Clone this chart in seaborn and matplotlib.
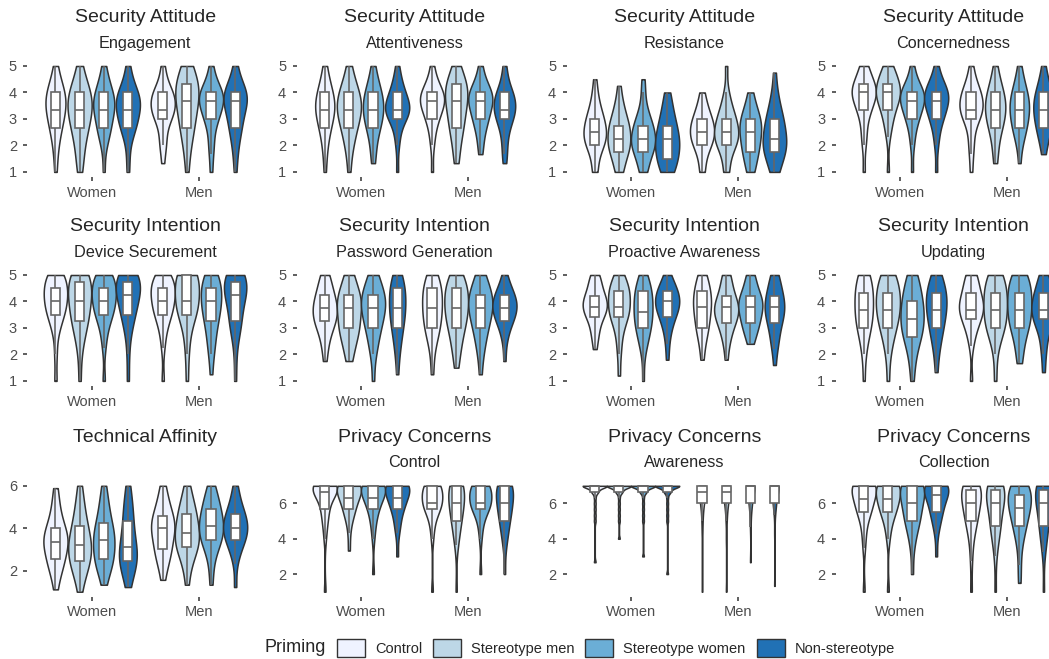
import matplotlib
matplotlib.use("Agg")
import matplotlib.pyplot as plt
from matplotlib.patches import Patch
import numpy as np
import pandas as pd
import seaborn as sns

GENDERS = ["Women", "Men"]
PRIMING = ["Control", "Stereotype men", "Stereotype women", "Non-stereotype"]
COLORS = ["#EFF3FF", "#BDD7E7", "#6BAED6", "#2171B5"]
# row order of every count table: Women x 4 primings, then Men x 4 primings
GROUPS = [(g, p) for g in GENDERS for p in PRIMING]

# answer levels of the scales (mean of 3, 4 or 5 items)
L5_3 = [1, 1.33, 1.67, 2, 2.33, 2.67, 3, 3.33, 3.67, 4, 4.33, 4.67, 5]
L5_4 = [1, 1.25, 1.5, 1.75, 2, 2.25, 2.5, 2.75, 3, 3.25, 3.5, 3.75, 4, 4.25, 4.5, 4.75, 5]
L5_5 = [1, 1.2, 1.4, 1.6, 1.8, 2, 2.2, 2.4, 2.6, 2.8, 3, 3.2, 3.4, 3.6, 3.8, 4, 4.2, 4.4, 4.6, 4.8, 5]
L7_3 = [1, 1.33, 1.67, 2, 2.33, 2.67, 3, 3.33, 3.67, 4, 4.33, 4.67, 5, 5.33, 5.67, 6, 6.33, 6.67, 7]
L7_4 = [1, 1.25, 1.5, 1.75, 2, 2.25, 2.5, 2.75, 3, 3.25, 3.5, 3.75, 4, 4.25, 4.5, 4.75,
        5, 5.25, 5.5, 5.75, 6, 6.25, 6.5, 6.75, 7]

# number of participants per answer level
engagement = [
    [1, 0, 1, 1, 1, 3, 2, 4, 4, 4, 2, 1, 1],
    [1, 1, 1, 1, 2, 2, 3, 3, 4, 3, 2, 1, 1],
    [1, 0, 0, 1, 2, 3, 2, 4, 5, 3, 2, 1, 1],
    [1, 0, 1, 0, 1, 4, 2, 4, 5, 4, 1, 1, 1],
    [0, 1, 0, 2, 1, 1, 3, 5, 4, 5, 1, 1, 1],
    [1, 0, 1, 1, 1, 3, 1, 3, 3, 3, 4, 2, 2],
    [1, 0, 1, 1, 1, 1, 3, 3, 5, 5, 2, 1, 1],
    [1, 0, 1, 1, 1, 3, 2, 2, 5, 6, 1, 1, 1],
]
attentiveness = [
    [1, 0, 1, 1, 1, 3, 2, 5, 4, 3, 2, 1, 1],
    [1, 0, 1, 1, 2, 2, 3, 4, 4, 3, 2, 1, 1],
    [0, 1, 1, 1, 1, 3, 3, 4, 4, 3, 2, 1, 1],
    [1, 0, 0, 1, 1, 1, 3, 7, 4, 3, 2, 1, 1],
    [1, 0, 0, 1, 1, 1, 3, 3, 6, 5, 2, 1, 1],
    [0, 1, 1, 1, 1, 3, 2, 2, 4, 3, 4, 2, 1],
    [0, 0, 1, 1, 1, 2, 3, 3, 5, 5, 2, 1, 1],
    [0, 1, 1, 1, 1, 2, 3, 5, 4, 4, 1, 1, 1],
]
resistance = [
    [2, 0, 1, 1, 3, 3, 4, 2, 3, 2, 1, 1, 1, 0, 1, 0, 0],
    [2, 1, 1, 3, 3, 3, 2, 4, 1, 2, 1, 1, 0, 1, 0, 0, 0],
    [2, 1, 1, 3, 3, 4, 2, 3, 2, 1, 1, 0, 1, 0, 1, 0, 0],
    [3, 1, 3, 2, 3, 3, 2, 2, 2, 1, 1, 1, 1, 0, 0, 0, 0],
    [2, 0, 1, 1, 3, 3, 4, 3, 3, 2, 1, 1, 1, 0, 0, 0, 0],
    [2, 0, 1, 1, 3, 3, 4, 2, 3, 2, 1, 1, 1, 0, 0, 0, 1],
    [2, 1, 1, 3, 2, 2, 3, 3, 3, 2, 1, 1, 1, 0, 0, 0, 0],
    [2, 1, 1, 3, 4, 2, 2, 2, 3, 1, 1, 1, 1, 0, 0, 1, 0],
]
concernedness = [
    [1, 0, 0, 1, 1, 1, 1, 3, 3, 6, 4, 2, 2],
    [1, 0, 0, 0, 1, 1, 2, 2, 4, 5, 4, 3, 2],
    [1, 0, 0, 1, 1, 1, 3, 3, 5, 6, 2, 1, 1],
    [1, 0, 0, 1, 1, 1, 3, 3, 5, 5, 3, 1, 1],
    [1, 0, 1, 1, 1, 1, 3, 5, 4, 4, 2, 1, 1],
    [0, 1, 1, 1, 1, 3, 3, 4, 4, 3, 2, 1, 1],
    [0, 1, 0, 1, 2, 3, 3, 4, 4, 3, 2, 1, 1],
    [0, 0, 1, 1, 2, 3, 3, 4, 4, 3, 2, 1, 1],
]
device_securement = [
    [1, 0, 0, 0, 1, 0, 0, 1, 1, 1, 3, 2, 3, 3, 3, 2, 4],
    [1, 0, 0, 0, 1, 0, 1, 1, 1, 3, 1, 2, 3, 2, 2, 3, 4],
    [1, 0, 0, 0, 0, 1, 0, 1, 1, 1, 3, 2, 3, 3, 3, 2, 4],
    [1, 0, 0, 0, 1, 0, 0, 1, 1, 1, 2, 2, 2, 3, 3, 3, 5],
    [1, 0, 0, 0, 0, 1, 0, 1, 1, 1, 3, 2, 3, 3, 3, 3, 3],
    [1, 0, 0, 0, 1, 0, 1, 0, 1, 1, 2, 3, 3, 2, 2, 1, 7],
    [0, 1, 0, 0, 1, 1, 1, 1, 1, 2, 2, 2, 3, 2, 3, 2, 3],
    [1, 0, 0, 0, 1, 0, 0, 1, 2, 2, 1, 1, 2, 3, 3, 3, 5],
]
password_generation = [
    [0, 0, 0, 1, 0, 1, 1, 1, 2, 3, 3, 3, 3, 2, 2, 1, 2],
    [0, 0, 0, 1, 1, 1, 1, 2, 3, 2, 1, 3, 3, 3, 1, 1, 2],
    [1, 0, 0, 0, 1, 1, 1, 1, 2, 2, 2, 3, 3, 3, 2, 1, 2],
    [0, 1, 0, 0, 1, 1, 1, 1, 2, 2, 2, 3, 2, 2, 3, 2, 2],
    [0, 1, 0, 0, 1, 0, 1, 2, 2, 2, 2, 3, 2, 2, 3, 2, 2],
    [0, 0, 1, 0, 1, 1, 1, 1, 2, 2, 2, 3, 2, 2, 3, 2, 2],
    [0, 1, 0, 0, 1, 1, 1, 1, 2, 2, 2, 3, 3, 3, 2, 1, 2],
    [0, 0, 0, 1, 0, 0, 1, 1, 1, 3, 3, 4, 4, 3, 2, 1, 1],
]
proactive_awareness = [
    [0, 0, 0, 0, 0, 0, 1, 0, 1, 1, 1, 1, 2, 3, 3, 3, 3, 1, 2, 1, 2],
    [0, 1, 0, 0, 0, 1, 0, 1, 0, 1, 1, 1, 2, 3, 2, 2, 2, 3, 2, 1, 2],
    [1, 0, 0, 0, 0, 0, 1, 1, 1, 1, 2, 2, 2, 2, 2, 2, 1, 3, 2, 1, 1],
    [0, 0, 0, 0, 1, 0, 0, 1, 0, 1, 1, 1, 2, 2, 3, 4, 2, 3, 2, 1, 1],
    [0, 0, 0, 0, 1, 0, 1, 0, 1, 1, 3, 1, 1, 2, 3, 2, 2, 2, 2, 1, 2],
    [0, 0, 0, 0, 1, 0, 0, 1, 1, 1, 1, 2, 3, 2, 4, 2, 2, 1, 1, 1, 2],
    [0, 0, 0, 0, 0, 0, 0, 1, 1, 1, 2, 2, 2, 2, 3, 3, 3, 1, 1, 1, 2],
    [0, 0, 0, 1, 0, 0, 1, 1, 1, 1, 1, 2, 2, 2, 3, 2, 2, 2, 1, 1, 2],
]
updating = [
    [1, 0, 0, 1, 1, 1, 3, 3, 3, 3, 3, 3, 3],
    [1, 0, 0, 1, 1, 1, 3, 2, 4, 3, 3, 3, 3],
    [1, 0, 1, 1, 1, 3, 3, 3, 3, 3, 2, 2, 2],
    [0, 1, 0, 1, 1, 2, 2, 3, 3, 4, 3, 3, 2],
    [1, 0, 0, 0, 1, 1, 2, 3, 5, 4, 3, 2, 3],
    [1, 0, 0, 1, 0, 2, 3, 3, 3, 3, 3, 3, 3],
    [0, 0, 1, 1, 1, 1, 3, 3, 3, 3, 3, 3, 3],
    [0, 1, 0, 1, 1, 1, 2, 4, 4, 4, 3, 2, 2],
]
# technical affinity: single scores (mean of 9 items, 1-6)
technical_affinity = [
    [1.11, 1.67, 2.0, 2.22, 2.33, 2.44, 2.56, 2.78, 3.0, 3.11, 3.22, 3.33, 3.33,
     3.44, 3.56, 3.67, 3.78, 3.89, 4.0, 4.22, 4.44, 4.67, 5.0, 5.44, 5.89],
    [1.0, 1.56, 1.89, 2.11, 2.22, 2.33, 2.44, 2.67, 2.78, 2.89, 3.0, 3.11, 3.22,
     3.33, 3.44, 3.56, 3.78, 3.89, 4.11, 4.33, 4.56, 4.78, 5.11, 5.56, 6.0],
    [1.33, 1.89, 2.11, 2.22, 2.33, 2.44, 2.56, 2.78, 2.89, 3.0, 3.22, 3.33, 3.44,
     3.56, 3.67, 3.78, 3.89, 4.0, 4.22, 4.44, 4.67, 4.89, 5.22, 5.56, 6.0],
    [1.22, 1.67, 1.89, 2.11, 2.22, 2.33, 2.44, 2.56, 2.67, 2.78, 2.89, 3.0, 3.11,
     3.22, 3.44, 3.67, 3.89, 4.11, 4.33, 4.56, 4.78, 5.0, 5.33, 5.67, 6.0],
    [1.56, 2.11, 2.44, 2.67, 2.78, 2.89, 3.0, 3.22, 3.44, 3.56, 3.78, 3.89, 4.0,
     4.0, 4.11, 4.22, 4.33, 4.44, 4.56, 4.67, 4.89, 5.11, 5.33, 5.67, 6.0],
    [1.33, 2.0, 2.44, 2.67, 2.89, 3.0, 3.11, 3.22, 3.33, 3.44, 3.56, 3.67, 3.78,
     3.89, 4.0, 4.22, 4.33, 4.44, 4.67, 4.78, 4.89, 5.11, 5.33, 5.67, 6.0],
    [1.33, 2.11, 2.67, 3.0, 3.22, 3.33, 3.44, 3.56, 3.67, 3.78, 3.89, 4.0, 4.11,
     4.22, 4.33, 4.44, 4.56, 4.67, 4.89, 5.0, 5.11, 5.33, 5.56, 5.78, 6.0],
    [1.22, 2.33, 2.78, 3.0, 3.22, 3.33, 3.44, 3.56, 3.67, 3.78, 3.89, 4.0, 4.0,
     4.11, 4.22, 4.33, 4.44, 4.56, 4.67, 4.78, 4.89, 5.11, 5.33, 5.67, 6.0],
]
pc_control = [
    [1, 0, 0, 0, 0, 0, 0, 0, 0, 1, 0, 1, 1, 1, 2, 1, 2, 4, 11],
    [0, 0, 0, 0, 0, 0, 0, 1, 0, 0, 1, 0, 1, 2, 2, 2, 4, 2, 10],
    [0, 0, 0, 1, 0, 0, 0, 0, 0, 1, 0, 1, 1, 1, 2, 2, 4, 2, 10],
    [0, 0, 0, 0, 0, 0, 1, 0, 0, 0, 1, 1, 1, 1, 2, 3, 3, 2, 10],
    [1, 0, 0, 0, 0, 0, 0, 0, 0, 1, 0, 1, 1, 1, 3, 5, 3, 2, 7],
    [1, 0, 0, 0, 0, 0, 0, 0, 1, 1, 1, 1, 2, 2, 2, 3, 2, 2, 7],
    [0, 0, 0, 1, 0, 0, 0, 0, 0, 1, 0, 1, 1, 1, 3, 5, 3, 2, 7],
    [0, 0, 0, 1, 0, 0, 0, 0, 1, 1, 1, 1, 2, 2, 2, 3, 2, 2, 7],
]
pc_awareness = [
    [0, 0, 0, 0, 0, 1, 0, 0, 0, 0, 0, 0, 1, 1, 1, 1, 1, 4, 15],
    [0, 0, 0, 0, 0, 0, 0, 0, 0, 1, 0, 0, 1, 1, 1, 1, 1, 4, 15],
    [0, 0, 0, 0, 0, 0, 1, 0, 0, 0, 0, 0, 1, 1, 1, 1, 1, 4, 15],
    [0, 0, 0, 1, 0, 0, 0, 0, 0, 0, 0, 0, 1, 1, 1, 1, 1, 4, 15],
    [1, 0, 0, 0, 0, 0, 0, 0, 0, 0, 1, 0, 1, 1, 1, 3, 3, 4, 10],
    [1, 0, 0, 0, 0, 0, 0, 0, 0, 1, 0, 0, 1, 1, 1, 3, 3, 4, 10],
    [0, 0, 0, 0, 0, 1, 0, 0, 0, 0, 0, 1, 0, 1, 1, 3, 2, 3, 13],
    [0, 1, 0, 0, 0, 0, 0, 0, 0, 0, 1, 0, 0, 1, 1, 3, 2, 3, 13],
]
pc_collection = [
    [1, 0, 0, 0, 0, 0, 0, 0, 0, 0, 1, 0, 0, 1, 0, 1, 0, 1, 2, 2, 2, 2, 1, 1, 10],
    [1, 0, 0, 0, 0, 0, 0, 0, 0, 0, 0, 0, 1, 0, 1, 0, 1, 1, 2, 2, 2, 3, 1, 1, 9],
    [0, 0, 0, 0, 1, 0, 0, 0, 0, 0, 1, 0, 1, 0, 1, 1, 2, 1, 2, 1, 2, 1, 2, 1, 8],
    [0, 0, 0, 0, 0, 0, 0, 0, 1, 0, 0, 0, 0, 1, 0, 1, 1, 1, 2, 1, 2, 2, 2, 2, 9],
    [1, 0, 0, 0, 0, 0, 0, 1, 0, 0, 0, 1, 0, 1, 0, 2, 1, 1, 2, 2, 1, 2, 2, 2, 6],
    [1, 0, 0, 0, 0, 0, 0, 0, 1, 0, 0, 1, 0, 1, 2, 1, 1, 1, 1, 1, 2, 2, 2, 2, 6],
    [0, 0, 1, 0, 0, 0, 1, 0, 0, 0, 1, 0, 1, 0, 2, 1, 1, 1, 2, 2, 2, 2, 2, 1, 5],
    [1, 0, 0, 0, 0, 0, 0, 0, 0, 1, 0, 1, 1, 0, 1, 2, 1, 1, 1, 1, 2, 2, 2, 2, 6],
]

# (title, subtitle, levels, table, scale max)
PANELS = [
    ("Security Attitude", "Engagement", L5_3, engagement, 5),
    ("Security Attitude", "Attentiveness", L5_3, attentiveness, 5),
    ("Security Attitude", "Resistance", L5_4, resistance, 5),
    ("Security Attitude", "Concernedness", L5_3, concernedness, 5),
    ("Security Intention", "Device Securement", L5_4, device_securement, 5),
    ("Security Intention", "Password Generation", L5_4, password_generation, 5),
    ("Security Intention", "Proactive Awareness", L5_5, proactive_awareness, 5),
    ("Security Intention", "Updating", L5_3, updating, 5),
    ("Technical Affinity", "", None, technical_affinity, 6),
    ("Privacy Concerns", "Control", L7_3, pc_control, 7),
    ("Privacy Concerns", "Awareness", L7_3, pc_awareness, 7),
    ("Privacy Concerns", "Collection", L7_4, pc_collection, 7),
]


def panel_frame(levels, table):
    recs = []
    for (g, p), row in zip(GROUPS, table):
        vals = np.repeat(levels, row) if levels is not None else row
        recs += [(g, p, v) for v in vals]
    return pd.DataFrame(recs, columns=["gender", "priming", "value"])


def nrd0(kde):
    # R's default bandwidth rule, as used by geom_violin
    x = kde.dataset.ravel()
    sd = x.std(ddof=1)
    q1, q3 = np.percentile(x, [25, 75])
    lo = min(sd, (q3 - q1) / 1.34) if q3 > q1 else sd
    return 0.9 * lo * len(x) ** -0.2 / sd


sns.set_theme(style="white")
plt.rcParams["font.family"] = ["Liberation Sans", "DejaVu Sans"]

W, H = 1049, 659
fig = plt.figure(figsize=(W / 100, H / 100), dpi=100)

col_left = [27.3, 296.6, 566.6, 835.6]
row_top = [60.7, 269.7, 480.5]
ax_w, ax_h = 236, 116.5

for i, (title, subtitle, levels, table, top) in enumerate(PANELS):
    r, c = divmod(i, 4)
    ax = fig.add_axes([col_left[c] / W, 1 - (row_top[r] + ax_h) / H, ax_w / W, ax_h / H])
    df = panel_frame(levels, table)

    sns.violinplot(data=df, x="gender", y="value", hue="priming", order=GENDERS,
                   hue_order=PRIMING, palette=COLORS, saturation=1, width=0.9,
                   cut=0, inner=None, density_norm="area", bw_method=nrd0,
                   bw_adjust=1.15, gridsize=300, linewidth=1.1, linecolor="#333333",
                   legend=False, ax=ax)
    sns.boxplot(data=df, x="gender", y="value", hue="priming", order=GENDERS,
                hue_order=PRIMING, palette=["white"] * 4, width=0.9, gap=0.62,
                showfliers=False, showcaps=False, linewidth=1.2, linecolor="#666666",
                legend=False, ax=ax)

    ax.set_xlim(-0.6, 1.6)
    if top == 5:
        ax.set_ylim(0.8, 5.2)
        ax.set_yticks([1, 2, 3, 4, 5])
    elif top == 6:
        ax.set_ylim(0.75, 6.25)
        ax.set_yticks([2, 4, 6])
    else:
        ax.set_ylim(0.7, 7.3)
        ax.set_yticks([2, 4, 6])
    ax.set_xlabel("")
    ax.set_ylabel("")
    sns.despine(ax=ax, left=True, bottom=True)
    ax.tick_params(axis="both", bottom=True, left=True, length=3, width=1.1,
                   color="#333333", labelsize=10.5, labelcolor="#4D4D4D", pad=3)
    ax.tick_params(axis="y", pad=4.5)

    ax.annotate(title, xy=(0.5, 1), xycoords="axes fraction", xytext=(0, 28),
                textcoords="offset points", ha="center", va="baseline", fontsize=14)
    if subtitle:
        ax.annotate(subtitle, xy=(0.5, 1), xycoords="axes fraction", xytext=(0, 9.5),
                    textcoords="offset points", ha="center", va="baseline", fontsize=11.7)

# legend along the bottom, title on the left
handles = [Patch(facecolor=col, edgecolor="#333333", linewidth=1.0) for col in COLORS]
fig.legend(handles, PRIMING, ncol=4, loc="center left",
           bbox_to_anchor=(337 / W, 1 - 648 / H), frameon=False, fontsize=10.5,
           handlelength=1.92, handleheight=1.55, handletextpad=0.68,
           columnspacing=0.75, borderpad=0, borderaxespad=0)
fig.text(265 / W, 1 - 648 / H, "Priming", fontsize=13, ha="left", va="center")

fig.savefig("out.png", dpi=100)
